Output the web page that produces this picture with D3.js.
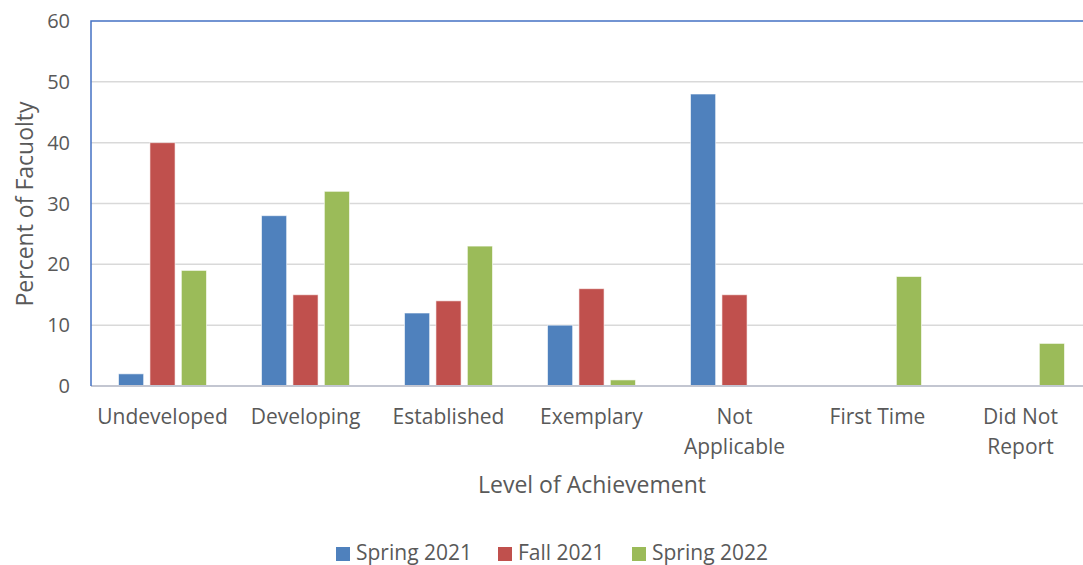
<!DOCTYPE html>
<html>
<head>
<meta charset="utf-8">
<script src="https://cdn.jsdelivr.net/npm/d3@7"></script>
<style>
  body { margin: 0; background: #fff; overflow: hidden; }
  text { font-family: "Open Sans", "Noto Sans", sans-serif; fill: #595959; }
</style>
</head>
<body>
<div id="chart"></div>
<script>
const WIDTH = 1083;
const HEIGHT = 565;

// data
const categories = ["Undeveloped", "Developing", "Established", "Exemplary", "Not Applicable", "First Time", "Did Not Report"];
const seriesNames = ["Spring 2021", "Fall 2021", "Spring 2022"];
const spring2021 = [2, 28, 12, 10, 48, 0, 0];
const fall2021 = [40, 15, 14, 16, 15, 0, 0];
const spring2022 = [19, 32, 23, 1, 0, 18, 7];
const yTicks = [0, 10, 20, 30, 40, 50, 60];

const colors = ["#4F81BD", "#C0504D", "#9BBB59"];
const seriesValues = [spring2021, fall2021, spring2022];

// category labels wrap like excel does
const catLines = {
  "Not Applicable": ["Not", "Applicable"],
  "Did Not Report": ["Did Not", "Report"]
};

let svg = d3
  .select("#chart")
  .append("svg")
  .attr("width", WIDTH)
  .attr("height", HEIGHT);

//plot area (runs a bit past the right edge, as in the picture)
const plotLeft = 91, plotTop = 21, plotBottom = 386, plotRight = 1092;

let x = d3.scaleBand().domain(categories).range([plotLeft, plotRight]);
let xInner = d3.scaleBand().domain(seriesNames).range([x.bandwidth() / 2 - 44, x.bandwidth() / 2 + 44]).paddingInner(0.2);
let y = d3.scaleLinear().domain([0, 60]).range([plotBottom, plotTop]);

//gridlines
svg.append("g")
  .selectAll("line")
  .data(yTicks.filter((d) => d > 0 && d < 60))
  .enter()
  .append("line")
  .attr("x1", plotLeft)
  .attr("x2", plotRight)
  .attr("y1", (d) => y(d))
  .attr("y2", (d) => y(d))
  .attr("stroke", "#D9D9D9")
  .attr("stroke-width", 1.5);

//bars
let groups = svg.append("g")
  .selectAll("g")
  .data(seriesNames)
  .enter()
  .append("g")
  .attr("fill", (d, i) => colors[i]);

groups.selectAll("rect")
  .data((s, si) => categories
    .map((c, ci) => ({ cat: c, series: s, value: seriesValues[si][ci] }))
    .filter((d) => d.value > 0))
  .enter()
  .append("rect")
  .attr("x", (d) => x(d.cat) + xInner(d.series))
  .attr("y", (d) => y(d.value))
  .attr("width", xInner.bandwidth())
  .attr("height", (d) => y(0) - y(d.value))
  .attr("stroke", "#fff")
  .attr("stroke-opacity", 0.6)
  .attr("stroke-width", 1);

//axis line at zero
svg.append("line")
  .attr("x1", plotLeft)
  .attr("x2", plotRight)
  .attr("y1", y(0))
  .attr("y2", y(0))
  .attr("stroke", "#C3C6D1")
  .attr("stroke-width", 2);

//blue border of plot area
svg.append("path")
  .attr("d", `M${plotLeft},${plotBottom} V${plotTop} H${plotRight}`)
  .attr("fill", "none")
  .attr("stroke", "#4472C4")
  .attr("stroke-width", 1.5);

//y tick labels
svg.append("g")
  .selectAll("text")
  .data(yTicks)
  .enter()
  .append("text")
  .attr("x", 70)
  .attr("y", (d) => y(d))
  .attr("dy", "0.35em")
  .attr("text-anchor", "end")
  .style("font-size", "20px")
  .text((d) => d);

//category labels
let catText = svg.append("g")
  .selectAll("text")
  .data(categories)
  .enter()
  .append("text")
  .attr("x", (d) => x(d) + x.bandwidth() / 2)
  .attr("y", 424)
  .attr("text-anchor", "middle")
  .style("font-size", "21px");

catText.selectAll("tspan")
  .data((d) => catLines[d] || [d])
  .enter()
  .append("tspan")
  .attr("x", function () { return d3.select(this.parentNode).attr("x"); })
  .attr("dy", (d, i) => (i === 0 ? 0 : 30))
  .text((d) => d);

//axis titles
svg.append("text")
  .attr("x", 592)
  .attr("y", 493)
  .attr("text-anchor", "middle")
  .style("font-size", "23px")
  .text("Level of Achievement");

svg.append("text")
  .attr("transform", "translate(33, 204) rotate(-90)")
  .attr("text-anchor", "middle")
  .style("font-size", "23px")
  .text("Percent of Facuolty");

//legend
const legendX = [336, 498, 632];
let legend = svg.append("g")
  .selectAll("g")
  .data(seriesNames)
  .enter()
  .append("g")
  .attr("transform", (d, i) => `translate(${legendX[i]}, 547)`);

legend.append("rect")
  .attr("width", 14)
  .attr("height", 14)
  .attr("fill", (d, i) => colors[i]);

legend.append("text")
  .attr("x", 20)
  .attr("y", 13)
  .style("font-size", "21px")
  .text((d) => d);
</script>
</body>
</html>
